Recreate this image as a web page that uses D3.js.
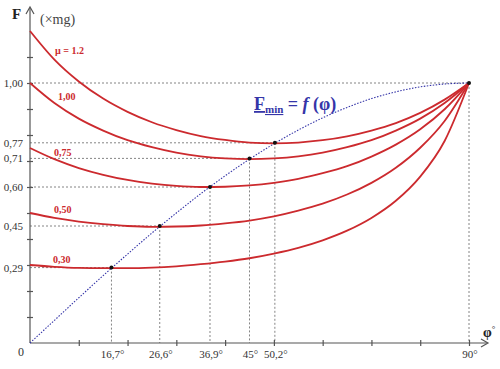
<!DOCTYPE html>
<html><head><meta charset="utf-8">
<script src="https://cdn.jsdelivr.net/npm/d3@7"></script>
<style>body{margin:0;background:#fff}svg{display:block}text{font-family:"Liberation Serif","DejaVu Serif",serif}</style>
</head><body>
<script>
// angle samples (degrees)
const phi = [0,5,10,15,20,25,30,35,40,45,50,55,60,65,70,75,80,85,90];
// F (×mg) read for each friction coefficient
const mu12 = [1.200,1.090,1.006,0.940,0.889,0.849,0.819,0.796,0.781,0.771,0.768,0.771,0.780,0.795,0.817,0.846,0.885,0.936,1.000];
const mu100 = [1.000,0.923,0.863,0.817,0.780,0.753,0.732,0.718,0.710,0.707,0.710,0.718,0.732,0.753,0.780,0.817,0.863,0.923,1.000];
const mu075 = [0.750,0.707,0.673,0.647,0.627,0.613,0.604,0.600,0.601,0.606,0.616,0.631,0.653,0.680,0.717,0.763,0.822,0.899,1.000];
const mu050 = [0.500,0.481,0.467,0.457,0.450,0.447,0.448,0.452,0.460,0.471,0.487,0.509,0.536,0.571,0.616,0.674,0.751,0.854,1.000];
const mu030 = [0.300,0.293,0.289,0.288,0.288,0.290,0.295,0.303,0.313,0.326,0.344,0.366,0.395,0.432,0.481,0.547,0.640,0.777,1.000];
// Fmin = f(phi) curve
const fmin = [0.000,0.087,0.174,0.259,0.342,0.423,0.500,0.574,0.643,0.707,0.766,0.819,0.866,0.906,0.940,0.966,0.985,0.996,1.000];
// minimum points
const minPhi = [16.7,26.6,36.9,45,50.2,90];
const minF = [0.29,0.45,0.60,0.71,0.77,1.00];
const yTickLabels = ["0,29","0,45","0,60","0,71","0,77","1,00"];
const xTickLabels = ["16,7°","26,6°","36,9°","45°","50,2°","90°"];
const curveLabels = ["µ = 1.2","1,00","0,75","0,50","0,30"];
const series = [mu12,mu100,mu075,mu050,mu030];

const W=500,H=369;
const svg=d3.select("body").append("svg").attr("width",W).attr("height",H);
const x=d3.scaleLinear().domain([0,90]).range([30,469]);
const y=d3.scaleLinear().domain([0,1]).range([343,83]);
const red="#cc2a2e", blue="#3535a8", axisCol="#555";

// dashed guide lines
const g=svg.append("g").attr("stroke","#666").attr("stroke-width",0.8).attr("stroke-dasharray","2,2").attr("fill","none");
minPhi.forEach((p,i)=>{
  g.append("line").attr("x1",x(0)).attr("x2",x(p)).attr("y1",y(minF[i])).attr("y2",y(minF[i]));
  g.append("line").attr("x1",x(p)).attr("x2",x(p)).attr("y1",y(minF[i])).attr("y2",y(0));
});

// axes
const xAxis=d3.axisBottom(x).tickValues(d3.range(10,100,10)).tickSize(6).tickFormat("");
const gx=svg.append("g").attr("transform",`translate(0,${y(0)-3})`).call(xAxis);
gx.select(".domain").remove();
gx.selectAll("line").attr("stroke",axisCol).attr("stroke-width",1.2);
const yAxis=d3.axisLeft(y).tickValues(d3.range(1,12).map(d=>d/10)).tickSize(6).tickFormat("");
const gy=svg.append("g").attr("transform",`translate(${x(0)+3},0)`).call(yAxis);
gy.select(".domain").remove();
gy.selectAll("line").attr("stroke",axisCol).attr("stroke-width",1.2);

svg.append("line").attr("x1",x(0)).attr("x2",487).attr("y1",y(0)).attr("y2",y(0)).attr("stroke",axisCol).attr("stroke-width",1.2);
svg.append("line").attr("x1",x(0)).attr("x2",x(0)).attr("y1",y(0)).attr("y2",8).attr("stroke",axisCol).attr("stroke-width",1.2);
svg.append("path").attr("d",`M${481},${y(0)-4} L${488},${y(0)} L${481},${y(0)+4}`).attr("fill","none").attr("stroke",axisCol).attr("stroke-width",1.2);
svg.append("path").attr("d",`M${x(0)-4},14 L${x(0)},7 L${x(0)+4},14`).attr("fill","none").attr("stroke",axisCol).attr("stroke-width",1.2);

// blue Fmin curve
const line=d3.line().x((d,i)=>x(phi[i])).y(d=>y(d)).curve(d3.curveMonotoneX);
svg.append("path").attr("d",line(fmin)).attr("fill","none").attr("stroke",blue).attr("stroke-width",1.1).attr("stroke-dasharray","1.5,1.5");

// red curves
series.forEach(s=>{
  svg.append("path").attr("d",line(s)).attr("fill","none").attr("stroke",red).attr("stroke-width",1.8);
});

// points
svg.selectAll("circle.pt").data(minPhi).enter().append("circle")
  .attr("cx",d=>x(d)).attr("cy",(d,i)=>y(minF[i])).attr("r",2).attr("fill","#111");

// y tick labels
svg.selectAll("text.yl").data(yTickLabels).enter().append("text")
  .attr("x",23).attr("y",(d,i)=>y(minF[i])+4).attr("text-anchor","end")
  .attr("font-size",11).attr("fill","#333").text(d=>d);
svg.append("text").attr("x",24).attr("y",356).attr("text-anchor","end").attr("font-size",12).attr("fill","#333").text("0");
// x tick labels
svg.selectAll("text.xl").data(xTickLabels).enter().append("text")
  .attr("x",(d,i)=>x(minPhi[i])+1).attr("y",358).attr("text-anchor","middle")
  .attr("font-size",11).attr("fill","#333").text(d=>d);

// axis titles
svg.append("text").attr("x",12).attr("y",19).attr("font-size",15).attr("font-weight","bold").attr("fill","#222").text("F");
svg.append("text").attr("x",40).attr("y",24).attr("font-size",14).attr("fill","#444").text("(×mg)");
svg.append("text").attr("x",483).attr("y",337).attr("font-size",14).attr("font-weight","bold").attr("fill","#222").text("φ")
  .append("tspan").attr("font-size",9).attr("font-weight","normal").attr("dy",-5).text("°");

// curve labels
const labPos=[[55,54],[58,100],[54,156],[54,213],[53,263]];
svg.selectAll("text.cl").data(curveLabels).enter().append("text")
  .attr("x",(d,i)=>labPos[i][0]).attr("y",(d,i)=>labPos[i][1])
  .attr("font-size",10).attr("font-weight","bold").attr("fill",red).text(d=>d);

// Fmin title
const t=svg.append("text").attr("x",254).attr("y",110).attr("font-size",18).attr("font-weight","bold").attr("fill",blue);
t.append("tspan").attr("text-decoration","underline").text("F");
t.append("tspan").attr("font-size",11).attr("dy",3).attr("text-decoration","underline").text("min");
t.append("tspan").attr("dy",-3).text(" = ");
t.append("tspan").attr("font-style","italic").text("f");
t.append("tspan").text(" (φ)");
</script>
</body></html>
